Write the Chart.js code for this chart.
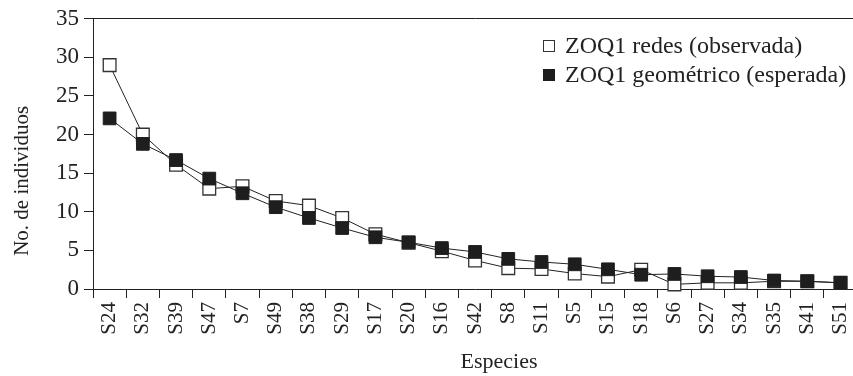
<!DOCTYPE html>
<html>
<head>
<meta charset="utf-8">
<script src="https://cdn.jsdelivr.net/npm/chart.js@4/dist/chart.umd.min.js"></script>
<style>
  html, body { margin: 0; padding: 0; background: #fff; overflow: hidden; }
  #wrap { width: 853px; height: 376px; overflow: hidden; position: relative; }
  canvas { display: block; }
</style>
</head>
<body>
<div id="wrap"><canvas id="c" width="870" height="376"></canvas></div>
<script>
const categories = ['S24','S32','S39','S47','S7','S49','S38','S29','S17','S20','S16','S42','S8','S11','S5','S15','S18','S6','S27','S34','S35','S41','S51'];
const observed = [29, 20, 16.1, 13.0, 13.3, 11.4, 10.8, 9.2, 7.1, 6.0, 4.9, 3.7, 2.7, 2.6, 2.0, 1.6, 2.5, 0.6, 0.8, 0.8, 1.0, 1.0, 0.8];
const geometric = [22.1, 18.8, 16.7, 14.3, 12.4, 10.6, 9.2, 7.9, 6.7, 6.05, 5.3, 4.8, 3.9, 3.5, 3.2, 2.55, 1.85, 1.95, 1.65, 1.55, 1.1, 1.0, 0.8];
const seriesNames = ['ZOQ1 redes (observada)', 'ZOQ1 geométrico (esperada)'];
const yTicks = [0, 5, 10, 15, 20, 25, 30, 35];
const xTitle = 'Especies';
const yTitle = 'No. de individuos';

const ink = '#222';
const serif = '"Liberation Serif", "DejaVu Serif", serif';

const textPlugin = {
  id: 'texts',
  afterDraw(chart) {
    const ctx = chart.ctx;
    const a = chart.chartArea;
    ctx.save();
    ctx.fillStyle = ink;
    // Y title
    ctx.save();
    ctx.font = '21px ' + serif;
    ctx.translate(28, (a.top + a.bottom) / 2 + 27);
    ctx.rotate(-Math.PI / 2);
    ctx.textAlign = 'center';
    ctx.textBaseline = 'alphabetic';
    ctx.fillText(yTitle, 0, 0);
    ctx.restore();
    // X title
    ctx.font = '22px ' + serif;
    ctx.textAlign = 'center';
    ctx.textBaseline = 'alphabetic';
    ctx.fillText(xTitle, 499, 368);
    // Legend
    ctx.font = '24px ' + serif;
    ctx.textAlign = 'left';
    const rows = [46, 75];
    chart.data.datasets.forEach((ds, i) => {
      const cy = rows[i];
      ctx.fillStyle = ds.pointBackgroundColor;
      ctx.strokeStyle = ds.pointBorderColor;
      ctx.lineWidth = 1;
      ctx.fillRect(543, cy - 6, 12, 12);
      ctx.strokeRect(543.5, cy - 5.5, 11, 11);
      ctx.fillStyle = ink;
      ctx.textBaseline = 'middle';
      ctx.fillText(ds.label, 565, cy + 1);
    });
    ctx.restore();
  }
};

function build() {
  new Chart(document.getElementById('c'), {
    type: 'line',
    data: {
      labels: categories,
      datasets: [
        {
          label: seriesNames[0],
          data: observed,
          order: 1,
          borderColor: ink,
          borderWidth: 1,
          pointStyle: 'rect',
          pointRadius: 9,
          pointBackgroundColor: '#ffffff',
          pointBorderColor: '#333',
          pointBorderWidth: 1.3,
          tension: 0,
          clip: false
        },
        {
          label: seriesNames[1],
          data: geometric,
          order: 0,
          borderColor: ink,
          borderWidth: 1,
          pointStyle: 'rect',
          pointRadius: 9,
          pointBackgroundColor: '#1e1e1e',
          pointBorderColor: '#1e1e1e',
          pointBorderWidth: 1,
          tension: 0,
          clip: false
        }
      ]
    },
    options: {
      responsive: false,
      animation: false,
      devicePixelRatio: 1,
      layout: { padding: { left: 0, right: 9.5, top: 15, bottom: 0 } },
      plugins: { legend: { display: false }, tooltip: { enabled: false } },
      scales: {
        x: {
          type: 'category',
          offset: true,
          grid: { display: true, drawOnChartArea: false, drawTicks: true, tickLength: 9, color: ink, offset: true },
          border: { display: true, color: ink, width: 1 },
          ticks: { color: ink, font: { family: serif, size: 21 }, minRotation: 90, maxRotation: 90, padding: 4, autoSkip: false },
          afterFit: (s) => { s.height = 87; }
        },
        x2: {
          type: 'category',
          position: 'top',
          grid: { display: false, drawTicks: false },
          ticks: { display: false },
          border: { display: true, color: ink, width: 1 },
          afterFit: (s) => { s.height = 0; }
        },
        y: {
          min: 0,
          max: 35,
          afterBuildTicks: (s) => { s.ticks = yTicks.map(v => ({ value: v })); },
          grid: { display: true, drawOnChartArea: false, drawTicks: true, tickLength: 9, color: ink },
          border: { display: true, color: ink, width: 1 },
          ticks: { color: ink, font: { family: serif, size: 23 }, padding: 5 },
          afterFit: (s) => { s.width = 93; }
        }
      }
    },
    plugins: [textPlugin]
  });
}

if (document.fonts && document.fonts.load) {
  Promise.all([
    document.fonts.load('21px "Liberation Serif"'),
    document.fonts.load('24px "Liberation Serif"')
  ]).then(build, build);
} else {
  build();
}
</script>
</body>
</html>
